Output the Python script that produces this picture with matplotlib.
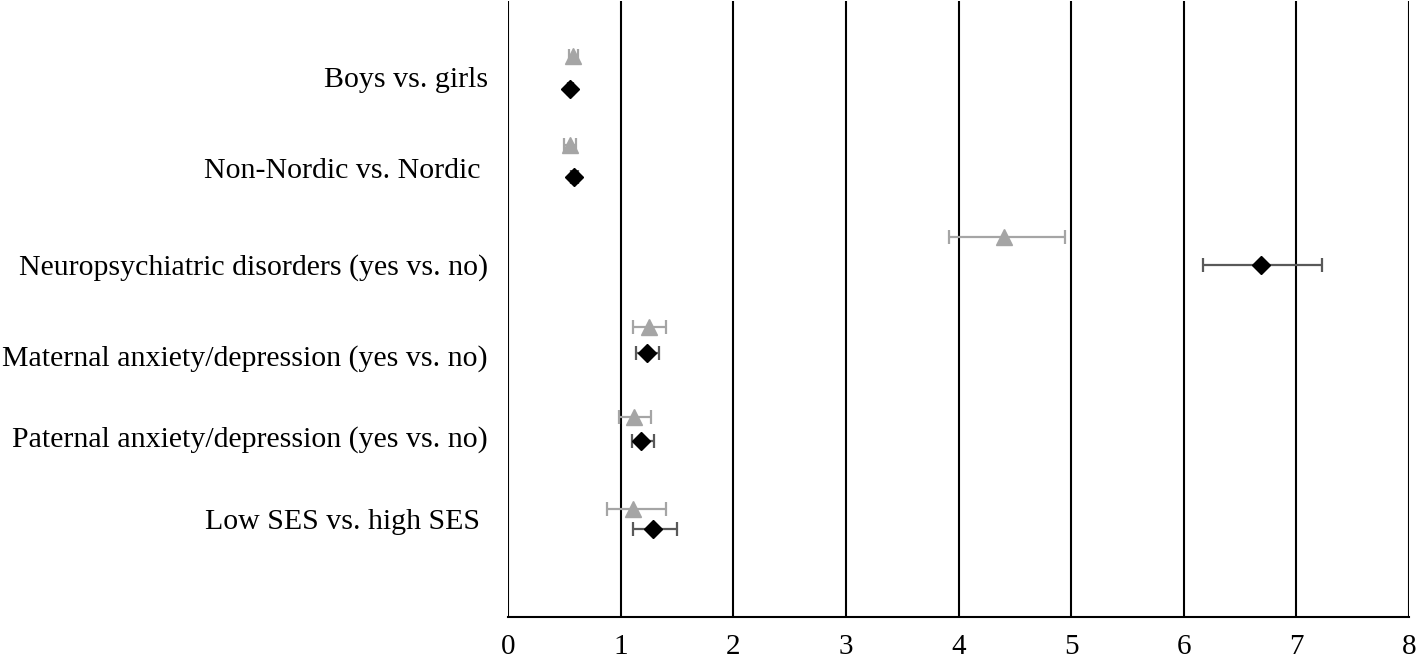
import matplotlib
matplotlib.use("Agg")
import matplotlib.pyplot as plt

# ---- data ----
categories = [
    "Boys vs. girls",
    "Non-Nordic vs. Nordic ",
    "Neuropsychiatric disorders (yes vs. no)",
    "Maternal anxiety/depression (yes vs. no)",
    "Paternal anxiety/depression (yes vs. no)",
    "Low SES vs. high SES ",
]
# series A (grey triangles)
tri_est = [0.58, 0.55, 4.40, 1.25, 1.12, 1.11]
tri_low = [0.54, 0.50, 3.92, 1.11, 0.99, 0.88]
tri_high = [0.62, 0.60, 4.95, 1.40, 1.27, 1.40]
tri_y = [6.38, 5.36, 4.32, 3.30, 2.27, 1.23]
# series B (black diamonds)
dia_est = [0.55, 0.59, 6.69, 1.23, 1.18, 1.29]
dia_low = [0.53, 0.56, 6.17, 1.14, 1.10, 1.11]
dia_high = [0.58, 0.62, 7.23, 1.34, 1.30, 1.50]
dia_y = [6, 5, 4, 3, 2, 1]
x_ticks = [0, 1, 2, 3, 4, 5, 6, 7, 8]

# ---- layout ----
label_y = [6.02, 4.99, 3.89, 2.86, 1.94, 1.00]

plt.rcParams['font.family'] = ['Liberation Serif', 'DejaVu Serif']

fig = plt.figure(figsize=(14.18, 6.63), dpi=100)
ax = fig.add_axes([508 / 1418, (663 - 617) / 663, (1409 - 508) / 1418, (617 - 1) / 663])

ax.set_xlim(0, 8)
ax.set_ylim(0, 7)

for x in x_ticks:
    ax.axvline(x, color='black', lw=1.5, zorder=1)

tri_err = [[e - l for e, l in zip(tri_est, tri_low)], [h - e for e, h in zip(tri_est, tri_high)]]
dia_err = [[e - l for e, l in zip(dia_est, dia_low)], [h - e for e, h in zip(dia_est, dia_high)]]

ax.errorbar(tri_est, tri_y, xerr=tri_err, fmt='^', color='#a5a5a5', ecolor='#a5a5a5',
            ms=12, elinewidth=1.6, capsize=5, capthick=1.6, zorder=3)
ax.errorbar(dia_est, dia_y, xerr=dia_err, fmt='D', color='black', ecolor='#595959',
            ms=9.5, elinewidth=1.6, capsize=5, capthick=1.6, zorder=4)

for name, y in zip(categories, label_y):
    ax.text(-0.18, y, name, ha='right', va='baseline', fontsize=21.5,
            transform=ax.transData, clip_on=False)

ax.set_xticks(x_ticks)
ax.set_xticklabels([str(t) for t in x_ticks], fontsize=21)
ax.tick_params(axis='x', length=0, pad=12)
ax.set_yticks([])
for s in ['top', 'right']:
    ax.spines[s].set_visible(False)
ax.spines['left'].set_visible(False)
ax.spines['bottom'].set_linewidth(1.5)

fig.savefig('out.png', dpi=100)
